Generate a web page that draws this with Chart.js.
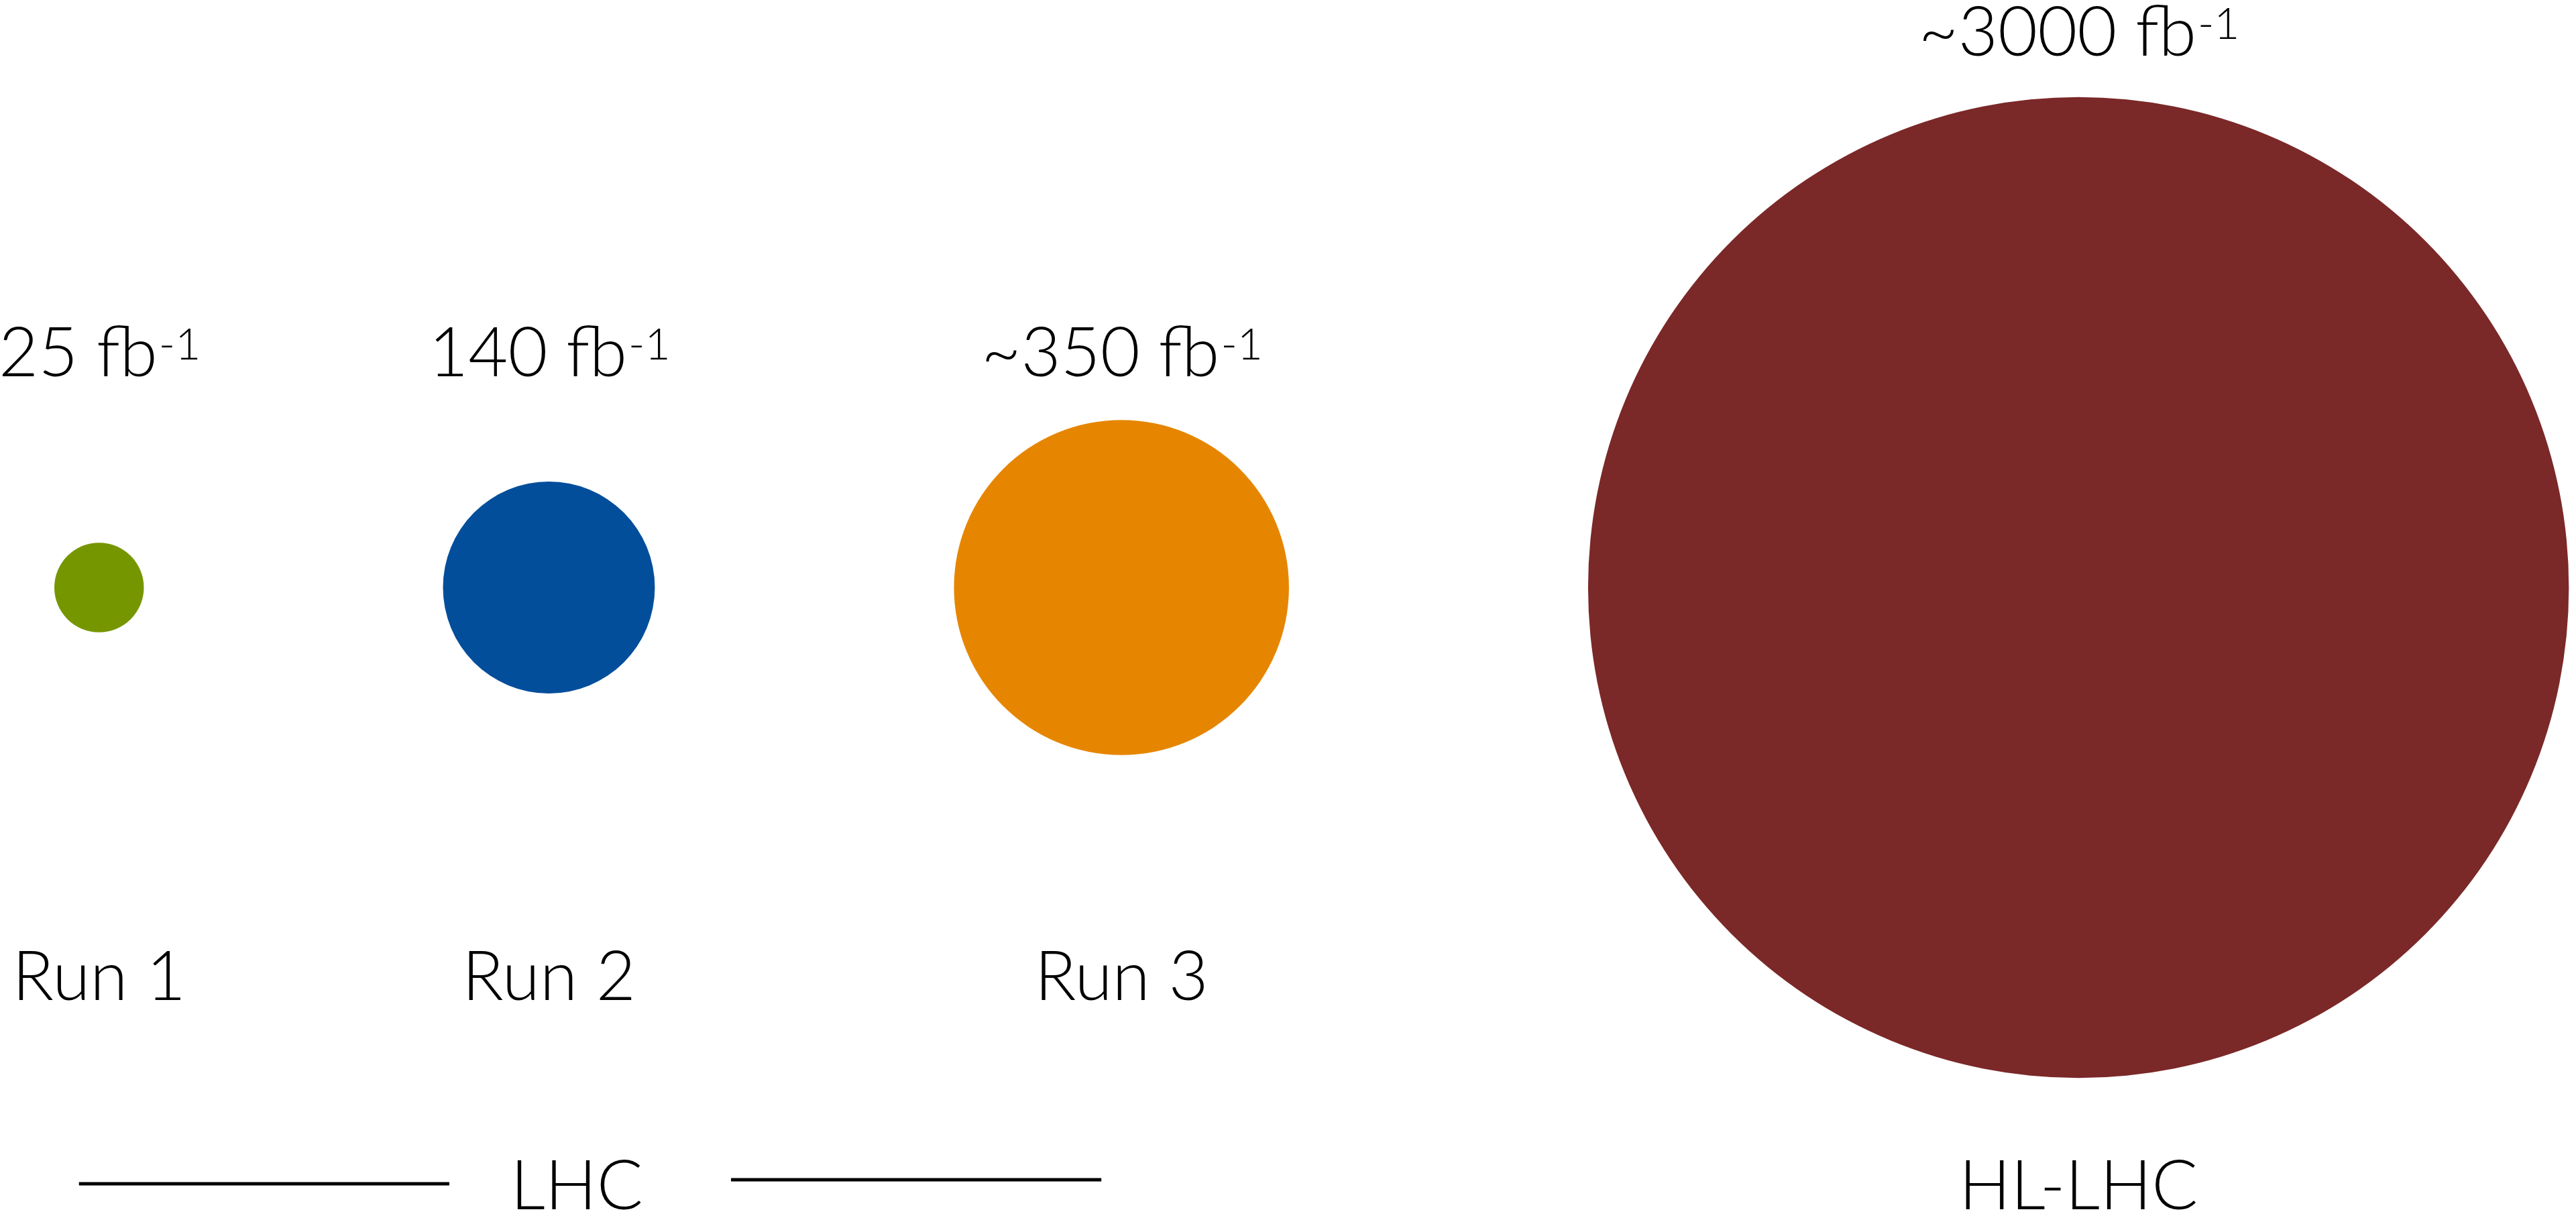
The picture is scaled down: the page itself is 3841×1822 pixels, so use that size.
<!DOCTYPE html>
<html>
<head>
<meta charset="utf-8">
<title>Integrated luminosity: LHC runs and HL-LHC</title>
<script src="https://cdn.jsdelivr.net/npm/chart.js@4/dist/chart.umd.min.js"></script>
<style>
  html, body { margin: 0; padding: 0; background: #ffffff; }
  #wrap { width: 3841px; height: 1822px; position: relative; }
</style>
</head>
<body>
<div id="wrap"><canvas id="lumiChart"></canvas></div>
<script>
// Data
const runLabels = ['Run 1', 'Run 2', 'Run 3', ''];
const lumiValues = [25, 140, 350, 3000];          // fb^-1
const lumiText = ['25', '140', '~350', '~3000'];
const eraLabels = ['LHC', 'LHC', 'LHC', 'HL-LHC'];
const runColors = ['#769600', '#034e9b', '#e68600', '#7b2828'];

// Layout / style constants
const W = 3841, H = 1822;
const R_PER_SQRT = 13.35;   // bubble area proportional to luminosity
const FIRST_LEFT = 81;      // left edge of first bubble
const GAP = 446;            // space between bubble edges
const CENTER_Y = 876;
const VALUE_ROW = 561;      // baseline of value labels
const RUN_ROW = 1491;       // baseline of run labels
const ERA_ROW = 1803;       // baseline of LHC / HL-LHC
const FONT_FAMILY = 'Lato, "Noto Sans", sans-serif';
const FONT_SIZE = 102;

// Bubbles are packed left to right with a constant gap
function buildPoints() {
  const pts = [];
  let edge = FIRST_LEFT;
  lumiValues.forEach((v) => {
    const r = R_PER_SQRT * Math.sqrt(v);
    pts.push({ x: edge + r, y: CENTER_Y, r });
    edge += 2 * r + GAP;
  });
  return pts;
}

function drawLumi(ctx, text, x, y) {
  const main = text + ' fb';
  const big = `300 ${FONT_SIZE}px ${FONT_FAMILY}`;
  const small = `300 ${Math.round(FONT_SIZE * 0.65)}px ${FONT_FAMILY}`;
  ctx.font = big;
  const w1 = ctx.measureText(main).width;
  ctx.font = small;
  const w2 = ctx.measureText('-1').width;
  const start = x - (w1 + w2) / 2;
  ctx.textAlign = 'left';
  ctx.font = big;
  ctx.fillText(main, start, y);
  ctx.font = small;
  ctx.fillText('-1', start + w1 + 2, y - 25);
}

// Draws the value labels, run labels and the era brackets
const labelPlugin = {
  id: 'lumiLabels',
  afterDatasetsDraw(chart) {
    const ctx = chart.ctx;
    const meta = chart.getDatasetMeta(0);
    ctx.save();
    ctx.fillStyle = '#000000';
    ctx.strokeStyle = '#000000';
    ctx.textBaseline = 'alphabetic';

    meta.data.forEach((pt, i) => {
      const r = chart.data.datasets[0].data[i].r;
      const labelY = Math.min(VALUE_ROW, pt.y - r - 62);
      drawLumi(ctx, lumiText[i], pt.x, labelY);
      if (runLabels[i]) {
        ctx.font = `300 ${FONT_SIZE}px ${FONT_FAMILY}`;
        ctx.textAlign = 'center';
        ctx.fillText(runLabels[i], pt.x, RUN_ROW);
      }
    });

    // group bubbles by era
    const groups = {};
    eraLabels.forEach((e, i) => {
      (groups[e] = groups[e] || []).push(meta.data[i].x);
    });
    ctx.font = `300 ${FONT_SIZE}px ${FONT_FAMILY}`;
    ctx.textAlign = 'center';
    Object.keys(groups).forEach((e) => {
      const xs = groups[e];
      if (xs.length > 1) {
        const left = xs[0] - 30;
        const right = xs[xs.length - 1] - 30;
        const mid = (left + right) / 2;
        ctx.fillText(e, mid - 20, ERA_ROW);
        ctx.lineWidth = 5;
        ctx.beginPath();
        ctx.moveTo(left, 1765);
        ctx.lineTo(mid - 210, 1765);
        ctx.moveTo(mid + 210, 1759);
        ctx.lineTo(right, 1759);
        ctx.stroke();
      } else {
        ctx.fillText(e, xs[0], ERA_ROW);
      }
    });
    ctx.restore();
  }
};

const chart = new Chart(document.getElementById('lumiChart'), {
  type: 'bubble',
  data: {
    labels: runLabels,
    datasets: [{
      label: 'Integrated luminosity',
      data: buildPoints(),
      backgroundColor: runColors,
      borderWidth: 0,
      hoverRadius: 0,
      clip: false,
    }],
  },
  options: {
    responsive: true,
    maintainAspectRatio: false,
    animation: false,
    events: [],
    layout: { padding: 0, autoPadding: false },
    plugins: {
      legend: { display: false },
      tooltip: { enabled: false },
    },
    scales: {
      x: { type: 'linear', min: 0, max: W, display: false },
      y: { type: 'linear', min: 0, max: H, reverse: true, display: false },
    },
  },
  plugins: [labelPlugin],
});
</script>
</body>
</html>
